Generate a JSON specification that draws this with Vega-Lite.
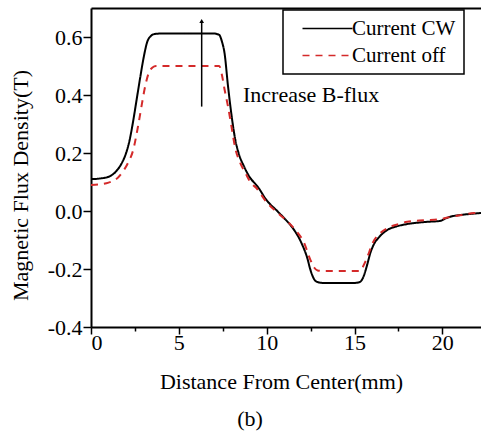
{
  "$schema": "https://vega.github.io/schema/vega-lite/v6.json",
  "width": 390,
  "height": 319,
  "autosize": "none",
  "padding": {"left": 91, "top": 8, "right": 0, "bottom": 106},
  "background": "white",
  "config": {
    "font": "Liberation Serif",
    "view": {"stroke": null},
    "axis": {"grid": false, "domainColor": "black", "domainWidth": 2, "tickColor": "black", "tickWidth": 1.5, "labelColor": "black", "titleColor": "black", "labelFontSize": 22, "titleFontSize": 22, "titleFontWeight": "normal", "labelFont": "Liberation Serif", "titleFont": "Liberation Serif"},
    "legend": {"strokeWidth": 1.5}
  },
  "title": {"text": "(b)", "orient": "bottom", "anchor": "middle", "dx": -36, "offset": 17, "fontSize": 22, "fontWeight": "normal", "font": "Liberation Serif", "color": "black"},
  "layer": [
    {
      "data": {"values": [
        {"x": 0, "y": 0.110, "series": "Current CW"},
        {"x": 0.5, "y": 0.112, "series": "Current CW"},
        {"x": 1.0, "y": 0.118, "series": "Current CW"},
        {"x": 1.4, "y": 0.135, "series": "Current CW"},
        {"x": 1.75, "y": 0.165, "series": "Current CW"},
        {"x": 2.0, "y": 0.20, "series": "Current CW"},
        {"x": 2.2, "y": 0.245, "series": "Current CW"},
        {"x": 2.4, "y": 0.31, "series": "Current CW"},
        {"x": 2.6, "y": 0.385, "series": "Current CW"},
        {"x": 2.8, "y": 0.46, "series": "Current CW"},
        {"x": 3.0, "y": 0.53, "series": "Current CW"},
        {"x": 3.2, "y": 0.583, "series": "Current CW"},
        {"x": 3.4, "y": 0.603, "series": "Current CW"},
        {"x": 3.6, "y": 0.610, "series": "Current CW"},
        {"x": 4.0, "y": 0.612, "series": "Current CW"},
        {"x": 5.0, "y": 0.612, "series": "Current CW"},
        {"x": 6.0, "y": 0.612, "series": "Current CW"},
        {"x": 7.0, "y": 0.612, "series": "Current CW"},
        {"x": 7.3, "y": 0.607, "series": "Current CW"},
        {"x": 7.45, "y": 0.585, "series": "Current CW"},
        {"x": 7.6, "y": 0.545, "series": "Current CW"},
        {"x": 7.8, "y": 0.43, "series": "Current CW"},
        {"x": 8.0, "y": 0.33, "series": "Current CW"},
        {"x": 8.2, "y": 0.25, "series": "Current CW"},
        {"x": 8.4, "y": 0.2, "series": "Current CW"},
        {"x": 8.7, "y": 0.155, "series": "Current CW"},
        {"x": 9.0, "y": 0.12, "series": "Current CW"},
        {"x": 9.5, "y": 0.083, "series": "Current CW"},
        {"x": 10.0, "y": 0.037, "series": "Current CW"},
        {"x": 10.6, "y": 0.0, "series": "Current CW"},
        {"x": 11.0, "y": -0.025, "series": "Current CW"},
        {"x": 11.5, "y": -0.06, "series": "Current CW"},
        {"x": 12.0, "y": -0.113, "series": "Current CW"},
        {"x": 12.3, "y": -0.16, "series": "Current CW"},
        {"x": 12.5, "y": -0.205, "series": "Current CW"},
        {"x": 12.7, "y": -0.235, "series": "Current CW"},
        {"x": 12.9, "y": -0.245, "series": "Current CW"},
        {"x": 13.2, "y": -0.248, "series": "Current CW"},
        {"x": 14.0, "y": -0.248, "series": "Current CW"},
        {"x": 15.0, "y": -0.248, "series": "Current CW"},
        {"x": 15.3, "y": -0.245, "series": "Current CW"},
        {"x": 15.5, "y": -0.228, "series": "Current CW"},
        {"x": 15.7, "y": -0.19, "series": "Current CW"},
        {"x": 15.9, "y": -0.145, "series": "Current CW"},
        {"x": 16.1, "y": -0.115, "series": "Current CW"},
        {"x": 16.4, "y": -0.09, "series": "Current CW"},
        {"x": 16.85, "y": -0.066, "series": "Current CW"},
        {"x": 17.4, "y": -0.053, "series": "Current CW"},
        {"x": 18.0, "y": -0.045, "series": "Current CW"},
        {"x": 19.0, "y": -0.038, "series": "Current CW"},
        {"x": 19.9, "y": -0.034, "series": "Current CW"},
        {"x": 20.2, "y": -0.025, "series": "Current CW"},
        {"x": 20.5, "y": -0.019, "series": "Current CW"},
        {"x": 21.0, "y": -0.014, "series": "Current CW"},
        {"x": 21.6, "y": -0.01, "series": "Current CW"},
        {"x": 22.2, "y": -0.007, "series": "Current CW"},
        {"x": 0, "y": 0.090, "series": "Current off"},
        {"x": 0.5, "y": 0.092, "series": "Current off"},
        {"x": 1.0, "y": 0.098, "series": "Current off"},
        {"x": 1.4, "y": 0.108, "series": "Current off"},
        {"x": 1.8, "y": 0.135, "series": "Current off"},
        {"x": 2.1, "y": 0.165, "series": "Current off"},
        {"x": 2.4, "y": 0.21, "series": "Current off"},
        {"x": 2.7, "y": 0.30, "series": "Current off"},
        {"x": 2.9, "y": 0.37, "series": "Current off"},
        {"x": 3.1, "y": 0.435, "series": "Current off"},
        {"x": 3.3, "y": 0.478, "series": "Current off"},
        {"x": 3.5, "y": 0.495, "series": "Current off"},
        {"x": 3.7, "y": 0.500, "series": "Current off"},
        {"x": 5.0, "y": 0.500, "series": "Current off"},
        {"x": 6.0, "y": 0.500, "series": "Current off"},
        {"x": 7.3, "y": 0.500, "series": "Current off"},
        {"x": 7.45, "y": 0.47, "series": "Current off"},
        {"x": 7.6, "y": 0.42, "series": "Current off"},
        {"x": 7.8, "y": 0.36, "series": "Current off"},
        {"x": 8.0, "y": 0.29, "series": "Current off"},
        {"x": 8.2, "y": 0.22, "series": "Current off"},
        {"x": 8.5, "y": 0.165, "series": "Current off"},
        {"x": 8.8, "y": 0.13, "series": "Current off"},
        {"x": 9.1, "y": 0.097, "series": "Current off"},
        {"x": 9.4, "y": 0.08, "series": "Current off"},
        {"x": 10.0, "y": 0.03, "series": "Current off"},
        {"x": 10.6, "y": -0.005, "series": "Current off"},
        {"x": 11.3, "y": -0.043, "series": "Current off"},
        {"x": 11.7, "y": -0.07, "series": "Current off"},
        {"x": 12.1, "y": -0.106, "series": "Current off"},
        {"x": 12.5, "y": -0.17, "series": "Current off"},
        {"x": 12.7, "y": -0.195, "series": "Current off"},
        {"x": 12.9, "y": -0.205, "series": "Current off"},
        {"x": 13.2, "y": -0.207, "series": "Current off"},
        {"x": 14.0, "y": -0.207, "series": "Current off"},
        {"x": 15.3, "y": -0.207, "series": "Current off"},
        {"x": 15.5, "y": -0.19, "series": "Current off"},
        {"x": 15.7, "y": -0.163, "series": "Current off"},
        {"x": 16.07, "y": -0.106, "series": "Current off"},
        {"x": 16.4, "y": -0.08, "series": "Current off"},
        {"x": 16.85, "y": -0.06, "series": "Current off"},
        {"x": 17.5, "y": -0.045, "series": "Current off"},
        {"x": 18.0, "y": -0.037, "series": "Current off"},
        {"x": 19.0, "y": -0.032, "series": "Current off"},
        {"x": 19.9, "y": -0.028, "series": "Current off"},
        {"x": 20.5, "y": -0.02, "series": "Current off"},
        {"x": 21.0, "y": -0.015, "series": "Current off"},
        {"x": 21.8, "y": -0.007, "series": "Current off"},
        {"x": 22.2, "y": -0.005, "series": "Current off"}
      ]},
      "mark": {"type": "line", "interpolate": "monotone", "strokeWidth": 2},
      "encoding": {
        "x": {"field": "x", "type": "quantitative", "scale": {"domain": [0, 22.2], "nice": false, "zero": false},
          "axis": {"orient": "bottom", "values": [0, 2.5, 5, 7.5, 10, 12.5, 15, 17.5, 20], "tickSize": {"condition": {"test": "datum.value % 5 === 0", "value": 7}, "value": 4}, "labelExpr": "datum.value % 5 === 0 ? datum.label : ''", "labelPadding": -2, "title": "Distance From Center(mm)", "titleX": 190, "titleY": 61, "titleBaseline": "alphabetic"}},
        "y": {"field": "y", "type": "quantitative", "scale": {"domain": [-0.4, 0.7], "nice": false, "zero": false},
          "axis": {"values": [-0.4, -0.3, -0.2, -0.1, 0, 0.1, 0.2, 0.3, 0.4, 0.5, 0.6], "tickSize": {"condition": {"test": "abs(round(datum.value*10)) % 2 === 0", "value": 8}, "value": 5}, "labelExpr": "abs(round(datum.value*10)) % 2 === 0 ? (datum.value < -0.000001 ? '-' : '') + format(abs(datum.value), '.1f') : ''", "labelPadding": 1, "title": "Magnetic Flux Density(T)", "titleX": -64, "titleY": 177, "titleBaseline": "alphabetic", "titleAngle": 270, "titleAlign": "center"}},
        "color": {"field": "series", "type": "nominal", "scale": {"domain": ["Current CW", "Current off"], "range": ["#000000", "#d42a2a"]},
          "legend": {"title": null, "orient": "none", "legendX": 192, "legendY": 2, "padding": 8, "strokeColor": "black", "fillColor": "white", "symbolType": "M-5,0H5", "symbolSize": 100, "symbolStrokeWidth": 1.5, "symbolOffset": 26, "labelFontSize": 21, "labelFont": "Liberation Serif", "labelColor": "black", "labelOffset": 14, "rowPadding": 5, "labelExpr": "datum.label + '            '"}},
        "strokeDash": {"field": "series", "type": "nominal", "scale": {"domain": ["Current CW", "Current off"], "range": [[1, 0], [7, 6]]},
          "legend": {"title": null, "orient": "none", "legendX": 192, "legendY": 2, "padding": 8, "strokeColor": "black", "fillColor": "white", "symbolType": "M-5,0H5", "symbolSize": 100, "symbolStrokeWidth": 1.5, "symbolOffset": 26, "labelFontSize": 21, "labelFont": "Liberation Serif", "labelColor": "black", "labelOffset": 14, "rowPadding": 5, "labelExpr": "datum.label + '            '"}}
      }
    },
    {
      "data": {"values": [{"x": 6.3, "y": 0.36, "y2": 0.655}]},
      "mark": {"type": "rule", "color": "black", "strokeWidth": 1.5},
      "encoding": {
        "x": {"field": "x", "type": "quantitative", "axis": {"orient": "top", "labels": false, "ticks": false, "title": null, "domain": true}},
        "y": {"field": "y", "type": "quantitative"},
        "y2": {"field": "y2"}
      }
    },
    {
      "data": {"values": [{"x": 6.3, "y": 0.655}]},
      "mark": {"type": "point", "shape": "triangle-up", "filled": true, "color": "black", "size": 22, "opacity": 1},
      "encoding": {
        "x": {"field": "x", "type": "quantitative", "axis": null},
        "y": {"field": "y", "type": "quantitative"}
      }
    },
    {
      "data": {"values": [{"x": 8.65, "y": 0.376, "label": "Increase B-flux"}]},
      "mark": {"type": "text", "align": "left", "baseline": "alphabetic", "fontSize": 22, "font": "Liberation Serif", "color": "black"},
      "encoding": {
        "x": {"field": "x", "type": "quantitative", "axis": null},
        "y": {"field": "y", "type": "quantitative"},
        "text": {"field": "label"}
      }
    }
  ],
  "resolve": {"axis": {"x": "independent"}}
}
